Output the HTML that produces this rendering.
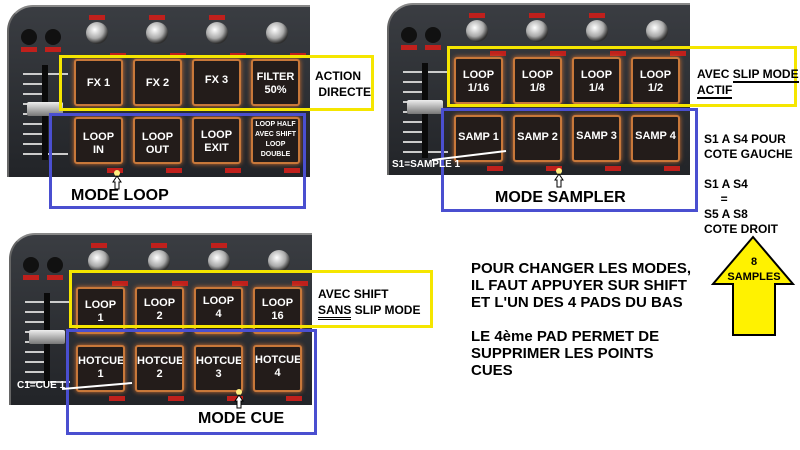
<!DOCTYPE html>
<html><head><meta charset="utf-8"><style>
body{margin:0;width:800px;height:450px;background:#fff;position:relative;overflow:hidden;font-family:"Liberation Sans",sans-serif;}
.a{position:absolute}
.dev{position:absolute;width:303px;height:172px;background:linear-gradient(#3a3d42,#222428);border-radius:26px 0 0 0;border-top:2px solid #888;border-left:2px solid #666;box-sizing:border-box}
.pad{position:absolute;width:49px;height:47px;background:#231c1a;border:2px solid #c8783a;box-shadow:0 0 5px #d07030;border-radius:3px;box-sizing:border-box;color:#fff;font-weight:bold;font-size:11px;text-align:center;line-height:13px;overflow:hidden}
.knob{position:absolute;width:22px;height:22px;border-radius:50%;background:radial-gradient(circle at 40% 35%,#fff,#aaa 45%,#333 70%,#111)}
.red{position:absolute;width:16px;height:5px;background:#c0201c}
.btn{position:absolute;width:16px;height:16px;border-radius:50%;background:#111}
.fader{position:absolute;width:6px;height:95px;background:#0a0a0a}
.cap{position:absolute;width:36px;height:14px;background:linear-gradient(#eee,#777);border-radius:2px}
.ln{position:absolute;height:2px;width:28px;background:#ccc}
.box{position:absolute;box-sizing:border-box}
.t{position:absolute;font-weight:bold;color:#000;white-space:nowrap}
</style></head><body>
<script>
var R=document.body,h='';
function panel(ox,oy,top,bot){
 h+='<div class="dev" style="left:'+ox+'px;top:'+oy+'px"></div>';
 h+='<div class="btn" style="left:'+(ox+14)+'px;top:'+(oy+24)+'px"></div><div class="btn" style="left:'+(ox+38)+'px;top:'+(oy+24)+'px"></div>';
 h+='<div class="red" style="left:'+(ox+14)+'px;top:'+(oy+42)+'px"></div><div class="red" style="left:'+(ox+38)+'px;top:'+(oy+42)+'px"></div>';
 for(var i=0;i<4;i++){var kx=ox+79+i*60;
  h+='<div class="knob" style="left:'+kx+'px;top:'+(oy+17)+'px"></div>';
  if(i<3)h+='<div class="red" style="left:'+(kx+3)+'px;top:'+(oy+10)+'px"></div>';
  h+='<div class="red" style="left:'+(kx+24)+'px;top:'+(oy+48)+'px"></div>';
  h+='<div class="pad" style="left:'+(ox+67+i*59)+'px;top:'+(oy+54)+'px;padding-top:'+(top[i][1]||14)+'px">'+top[i][0]+'</div>';
  h+='<div class="pad" style="left:'+(ox+67+i*59)+'px;top:'+(oy+112)+'px;padding-top:'+(bot[i][1]||10)+'px;font-size:'+(bot[i][2]||11)+'px;line-height:'+(bot[i][3]||13)+'px">'+bot[i][0]+'</div>';
  h+='<div class="red" style="left:'+(ox+100+i*59)+'px;top:'+(oy+163)+'px"></div>';
 }
 for(var j=0;j<9;j++)h+='<div class="ln" style="left:'+(ox+16)+'px;top:'+(oy+68+j*10)+'px;width:'+(j%8==0?45:20)+'px"></div>';
 h+='<div class="fader" style="left:'+(ox+35)+'px;top:'+(oy+60)+'px"></div><div class="cap" style="left:'+(ox+20)+'px;top:'+(oy+97)+'px"></div>';
}
panel(7,5,[['FX 1',16],['FX 2',16],['FX 3',13],['FILTER<br>50%',10]],[['LOOP<br>IN',12],['LOOP<br>OUT',12],['LOOP<br>EXIT',10],['LOOP HALF<br>AVEC SHIFT<br>LOOP<br>DOUBLE',1,7,10]]);
panel(387,3,[['LOOP<br>1/16',10],['LOOP<br>1/8',10],['LOOP<br>1/4',10],['LOOP<br>1/2',10]],[['SAMP 1',14],['SAMP 2',14],['SAMP 3',13],['SAMP 4',13]]);
panel(9,233,[['LOOP<br>1',10],['LOOP<br>2',8],['LOOP<br>4',6],['LOOP<br>16',8]],[['HOTCUE<br>1',8],['HOTCUE<br>2',8],['HOTCUE<br>3',8],['HOTCUE<br>4',7]]);
R.insertAdjacentHTML('afterbegin',h);
</script>
<div class="box" style="left:59px;top:55px;width:315px;height:56px;border:3px solid #f5e600"></div>
<div class="box" style="left:49px;top:113px;width:257px;height:96px;border:3px solid #4a4fd0"></div>
<div class="t" style="left:315px;top:68px;font-size:12px;line-height:16px">ACTION<br>&nbsp;DIRECTE</div>
<div class="t" style="left:71px;top:187px;font-size:16px">MODE LOOP</div>
<div class="a" style="left:114px;top:170px;width:6px;height:6px;border-radius:50%;background:#ffef80"></div>

<div class="box" style="left:447px;top:46px;width:350px;height:61px;border:3px solid #f5e600"></div>
<div class="box" style="left:441px;top:108px;width:257px;height:104px;border:3px solid #4a4fd0"></div>
<div class="t" style="left:697px;top:66px;font-size:12px;line-height:16px">AVEC <span style="border-bottom:2px solid #000">SLIP MODE</span><br><span style="border-bottom:2px solid #000">ACTIF</span></div>
<div class="t" style="left:704px;top:132px;font-size:12px;line-height:15px">S1 A S4 POUR<br>COTE GAUCHE<br><br>S1 A S4<br>&nbsp;&nbsp;&nbsp;&nbsp;&nbsp;=<br>S5 A S8<br>COTE DROIT</div>
<div class="t" style="left:392px;top:159px;font-size:10px;color:#fff">S1=SAMPLE 1</div>
<div class="t" style="left:495px;top:189px;font-size:16px">MODE SAMPLER</div>
<div class="a" style="left:556px;top:168px;width:6px;height:6px;border-radius:50%;background:#ffef80"></div>

<div class="box" style="left:69px;top:270px;width:364px;height:58px;border:3px solid #f5e600"></div>
<div class="box" style="left:66px;top:329px;width:251px;height:106px;border:3px solid #4a4fd0"></div>
<div class="t" style="left:318px;top:286px;font-size:12px;line-height:16px">AVEC SHIFT<br><span style="border-bottom:3px double #000">SANS</span> SLIP MODE</div>
<div class="t" style="left:17px;top:380px;font-size:10px;color:#fff">C1=CUE 1</div>
<div class="t" style="left:198px;top:410px;font-size:16px">MODE CUE</div>
<div class="a" style="left:236px;top:389px;width:6px;height:6px;border-radius:50%;background:#ffef80"></div>

<div class="t" style="left:471px;top:260px;font-size:15px;line-height:17px">POUR CHANGER LES MODES,<br>IL FAUT APPUYER SUR SHIFT<br>ET L'UN DES 4 PADS DU BAS<br><br>LE 4ème PAD PERMET DE<br>SUPPRIMER LES POINTS<br>CUES</div>
<svg class="a" style="left:0;top:0" width="800" height="450">
<polygon points="753,237 793,284 775,284 775,335 733,335 733,284 713,284" fill="#fff200" stroke="#000" stroke-width="2"/>
<text x="754" y="265" font-family="Liberation Sans" font-weight="bold" font-size="11" text-anchor="middle">8</text>
<text x="754" y="280" font-family="Liberation Sans" font-weight="bold" font-size="11" text-anchor="middle">SAMPLES</text>
<path d="M117,176 l-4,6 h2 v7 h4 v-7 h2 z" fill="#fff" stroke="#000"/>
<path d="M559,174 l-4,6 h2 v7 h4 v-7 h2 z" fill="#fff" stroke="#000"/>
<path d="M239,395 l-4,6 h2 v7 h4 v-7 h2 z" fill="#fff" stroke="#000"/>
<line x1="432" y1="160" x2="506" y2="151" stroke="#fff" stroke-width="2"/>
<line x1="62" y1="389" x2="132" y2="383" stroke="#fff" stroke-width="2"/>
</svg>
</body></html>
